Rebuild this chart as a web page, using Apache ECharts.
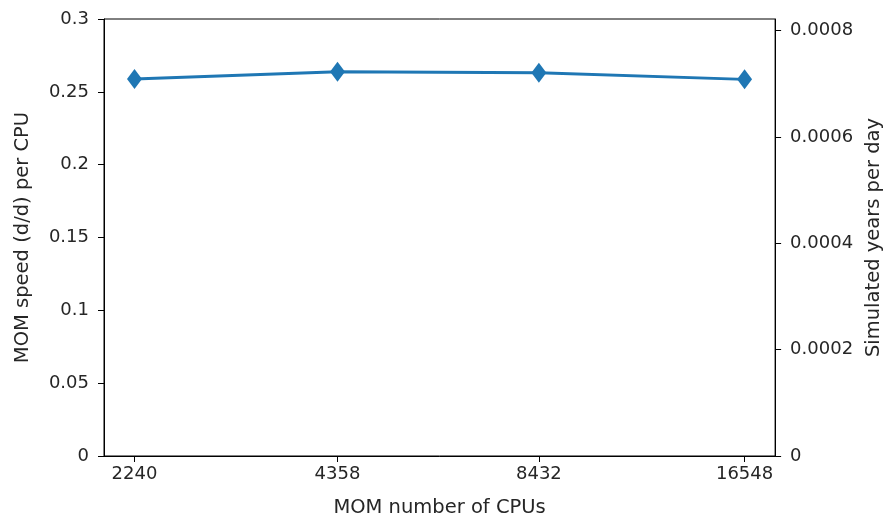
<!DOCTYPE html>
<html>
<head>
<meta charset="utf-8">
<script src="https://cdn.jsdelivr.net/npm/echarts@6/dist/echarts.min.js"></script>
<style>html,body{margin:0;padding:0;background:#fff}#c{width:892px;height:525px}</style>
</head>
<body>
<div id="c"></div>
<script>
const cpus = [2240, 4358, 8432, 16548];
const speedPerCpu = [0.2588, 0.2638, 0.2631, 0.2586];
const leftTicks = [0, 0.05, 0.1, 0.15, 0.2, 0.25, 0.3];
const rightTicks = [0, 0.0002, 0.0004, 0.0006, 0.0008];
const xTitle = 'MOM number of CPUs';
const yLeftTitle = 'MOM speed (d/d) per CPU';
const yRightTitle = 'Simulated years per day';

const FONT = 'DejaVu Sans';
const TXT = '#262626';
const TICK_FS = 18;
const TITLE_FS = 19.5;
const chart = echarts.init(document.getElementById('c'), null, {renderer: 'canvas'});
chart.setOption({
  animation: false,
  backgroundColor: '#fff',
  grid: {left: 104, right: 116, top: 19, bottom: 69, show: true, borderColor: '#000', borderWidth: 1, backgroundColor: 'transparent'},
  xAxis: {
    type: 'log', logBase: 2, min: 2027, max: 18290,
    name: xTitle, nameLocation: 'middle', nameGap: 42,
    nameTextStyle: {fontFamily: FONT, fontSize: TITLE_FS, color: TXT},
    axisLine: {show: true, lineStyle: {color: '#000', width: 1}},
    axisTick: {show: true, length: 6, lineStyle: {color: '#000'}, customValues: cpus},
    axisLabel: {fontFamily: FONT, fontSize: TICK_FS, color: TXT, margin: 9, customValues: cpus, formatter: v => String(Math.round(v))},
    splitLine: {show: false}, minorTick: {show: false}, minorSplitLine: {show: false}
  },
  yAxis: [{
    type: 'value', min: 0, max: 0.3, interval: 0.05, position: 'left',
    name: yLeftTitle, nameLocation: 'middle', nameGap: 71,
    nameTextStyle: {fontFamily: FONT, fontSize: TITLE_FS, color: TXT},
    axisLine: {show: true, lineStyle: {color: '#000', width: 1}},
    axisTick: {show: true, length: 6, lineStyle: {color: '#000'}},
    axisLabel: {fontFamily: FONT, fontSize: TICK_FS, color: TXT, margin: 15, customValues: leftTicks},
    splitLine: {show: false}
  }, {
    type: 'value', min: 0, max: 0.3 / 365, position: 'right',
    name: yRightTitle, nameLocation: 'middle', nameGap: 86,
    nameTextStyle: {fontFamily: FONT, fontSize: TITLE_FS, color: TXT},
    axisLine: {show: true, lineStyle: {color: '#000', width: 1}},
    axisTick: {show: true, length: 6, lineStyle: {color: '#000'}, customValues: rightTicks},
    axisLabel: {fontFamily: FONT, fontSize: TICK_FS, color: TXT, margin: 15, customValues: rightTicks,
      formatter: v => v === 0 ? '0' : v.toFixed(4)},
    splitLine: {show: false}
  }],
  series: [{
    type: 'line', yAxisIndex: 0,
    data: cpus.map((c, i) => [c, speedPerCpu[i]]),
    symbol: 'diamond', symbolSize: [15, 20], showAllSymbol: true,
    lineStyle: {color: '#1f77b4', width: 2.8},
    itemStyle: {color: '#1f77b4'}
  }]
});
</script>
</body>
</html>
